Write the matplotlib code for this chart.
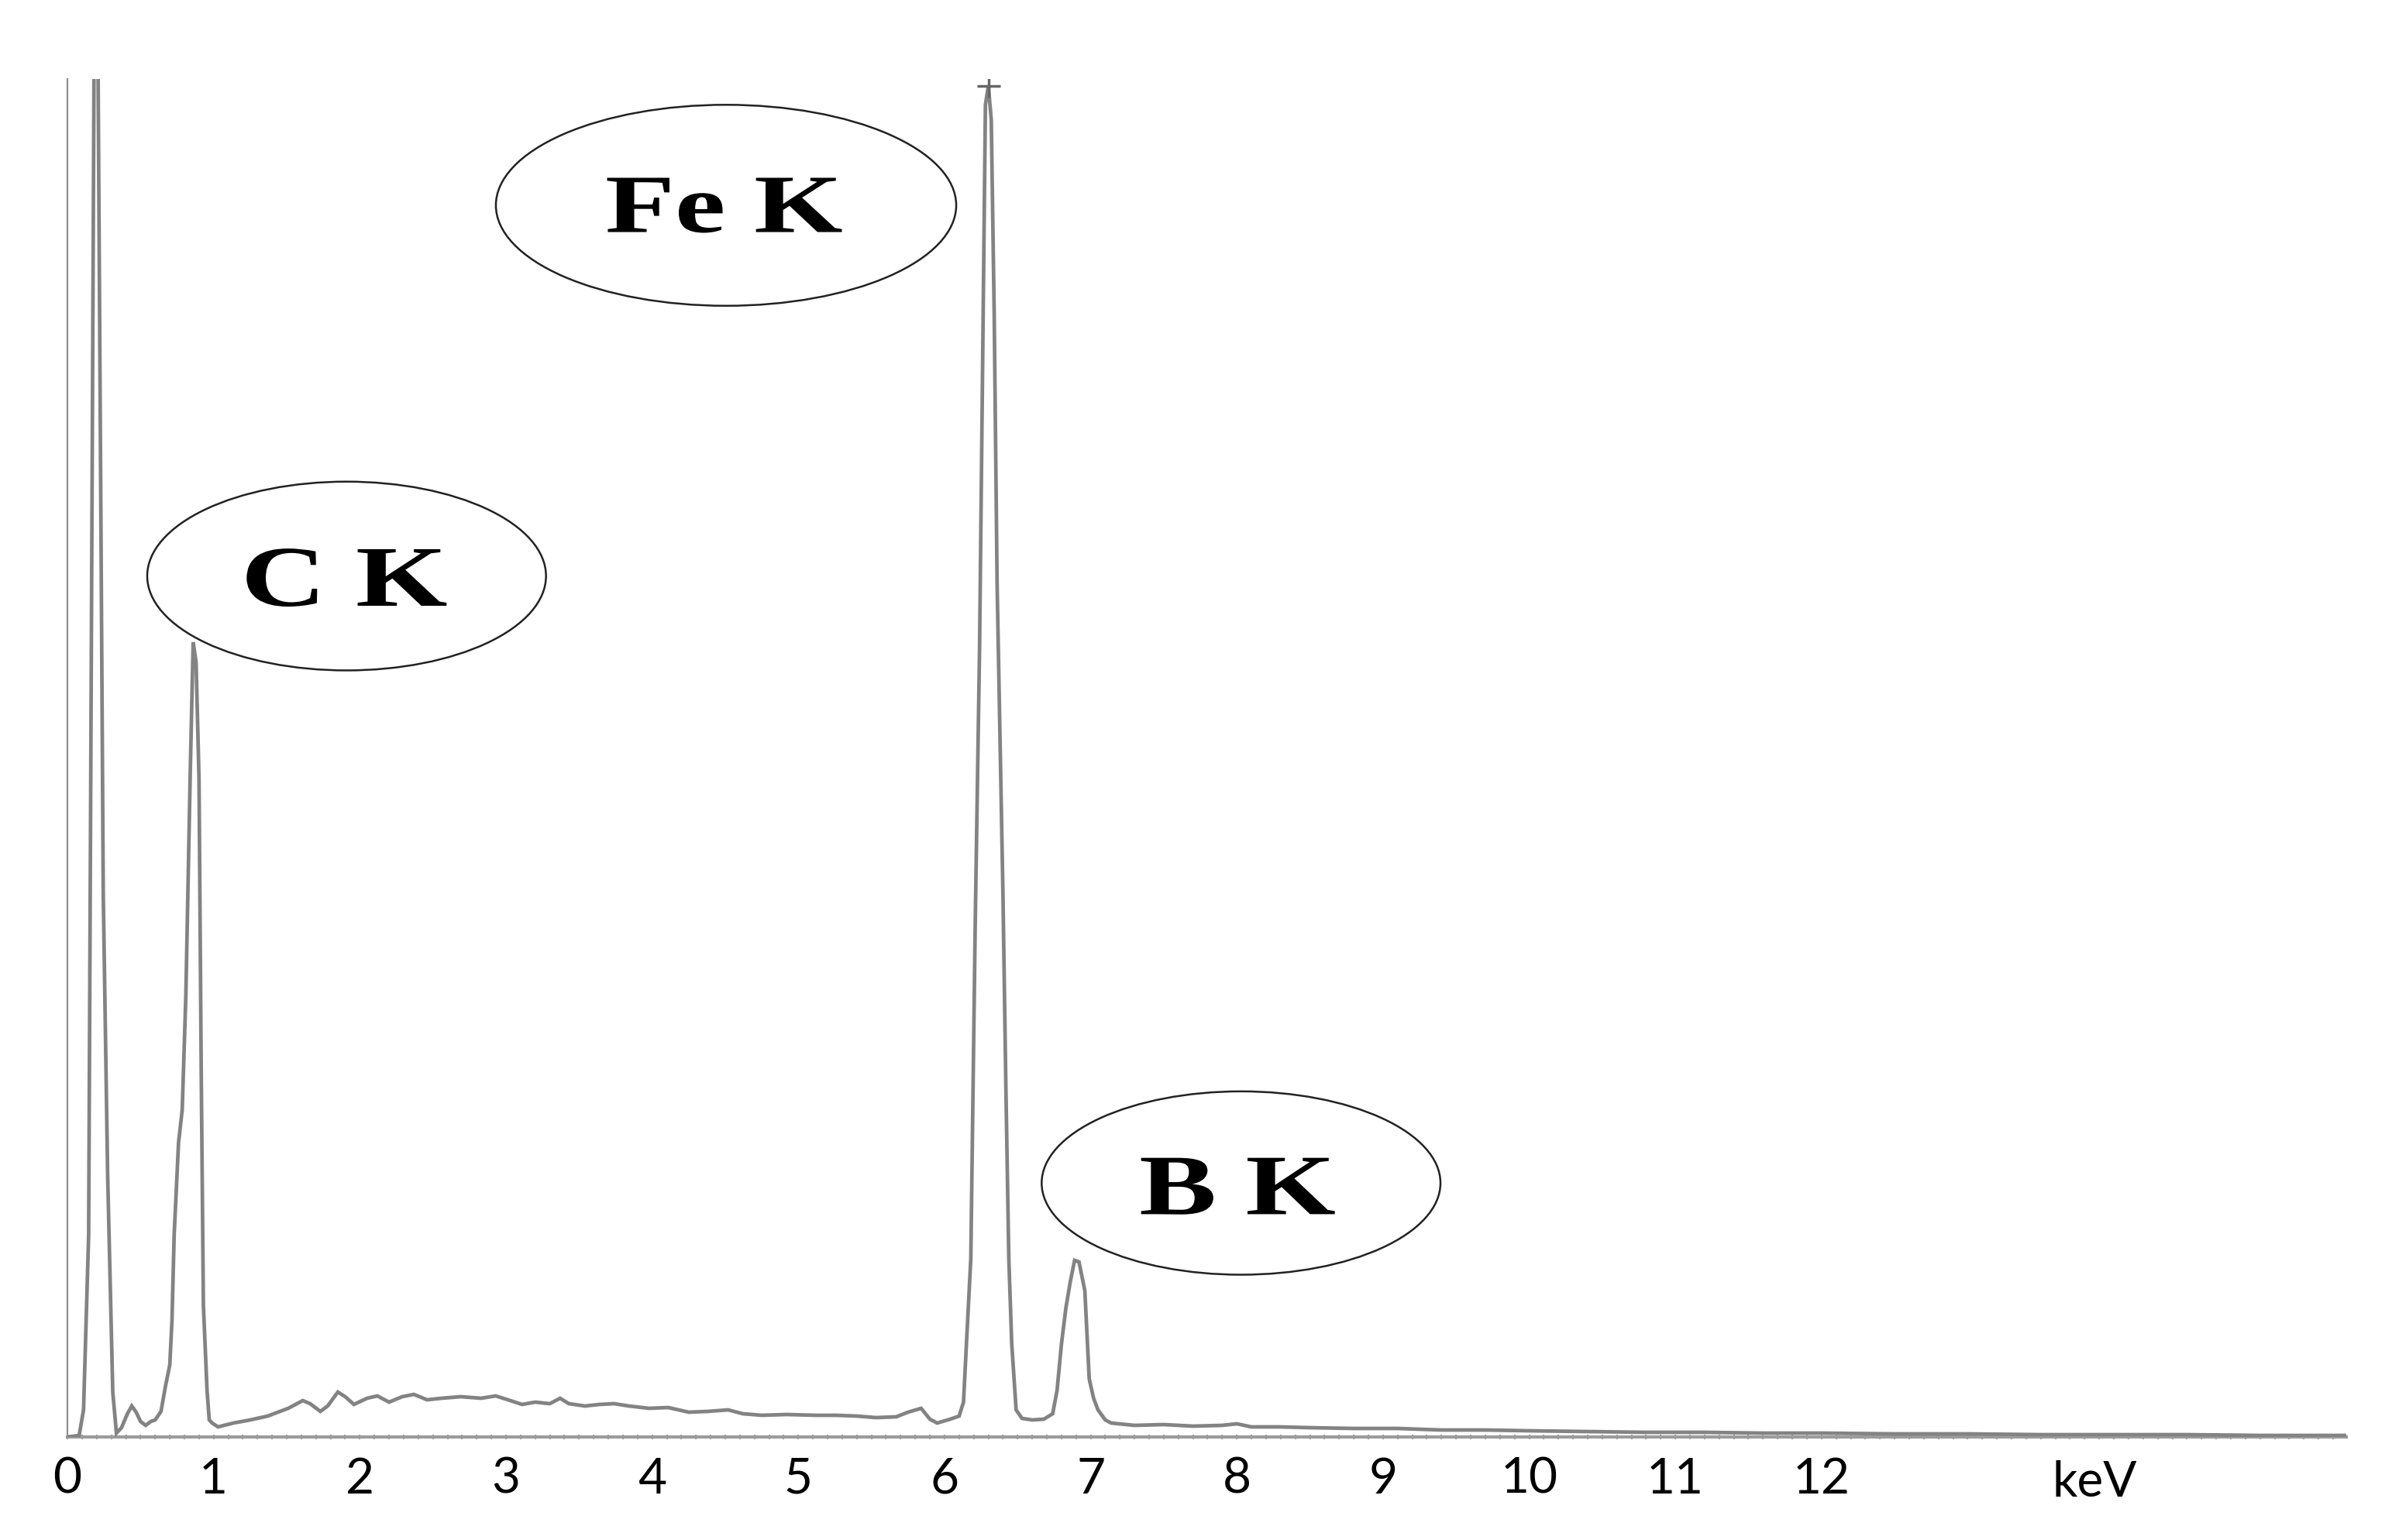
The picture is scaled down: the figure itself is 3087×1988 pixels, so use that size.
import numpy as np
import matplotlib.pyplot as plt
from matplotlib.patches import Ellipse, PathPatch
from matplotlib.textpath import TextPath
from matplotlib.font_manager import FontProperties
from matplotlib.transforms import Affine2D, blended_transform_factory

# EDS spectrum (energy in keV, intensity in arbitrary counts)
energy_kev = [
    0.00, 0.08, 0.11, 0.145, 0.185, 0.205, 0.245, 0.275, 0.31, 0.335,
    0.37, 0.41, 0.44, 0.47, 0.50, 0.535, 0.57, 0.60, 0.64, 0.67, 0.70, 0.715,
    0.73, 0.76, 0.785, 0.81, 0.84, 0.86, 0.88, 0.90, 0.915, 0.93, 0.955, 0.97, 0.99, 1.03,
    1.135, 1.25, 1.37, 1.51, 1.61, 1.66, 1.73, 1.78, 1.85, 1.90, 1.96, 2.05, 2.12, 2.20,
    2.29, 2.37, 2.46, 2.56, 2.69, 2.83, 2.93, 3.03, 3.11, 3.20, 3.30, 3.37, 3.43, 3.54,
    3.64, 3.74, 3.84, 3.98, 4.11, 4.25, 4.38, 4.52, 4.62, 4.75, 4.92, 5.12, 5.26, 5.40,
    5.53, 5.67, 5.75, 5.84, 5.90, 5.95, 6.04, 6.10,
    6.13, 6.15, 6.18, 6.21, 6.24, 6.26, 6.28, 6.30, 6.32, 6.34, 6.36, 6.38, 6.40, 6.42,
    6.44, 6.46, 6.49, 6.53, 6.60, 6.68, 6.74, 6.77, 6.80, 6.83, 6.86, 6.89, 6.92, 6.96,
    6.99, 7.02, 7.05, 7.10, 7.14,
    7.3, 7.5, 7.7, 7.9, 8.0, 8.1, 8.3, 8.5, 8.8, 9.1, 9.4, 9.7, 10.0, 10.4, 10.8, 11.2,
    11.6, 12.0, 12.5, 13.0, 13.5, 14.0, 14.5, 15.0, 15.59,
]
counts = [
    0, 2, 35, 261, 1900, 1900, 700, 338, 58, 5,
    12, 30, 40, 32, 20, 15, 20, 22, 33, 65, 93, 150,
    261, 380, 422, 570, 857, 1026, 1000, 850, 475, 170, 60, 22, 18, 13,
    18, 22, 27, 37, 47, 43, 33, 40, 58, 52, 42, 50, 53, 45,
    52, 55, 48, 50, 52, 50, 53, 47, 42, 45, 43, 50, 43, 40,
    42, 43, 40, 37, 38, 32, 33, 35, 30, 28, 29, 28, 28, 27,
    25, 26, 32, 37, 23, 18, 23, 27,
    45, 120, 230, 660, 1020, 1370, 1720, 1744, 1700, 1450, 1100, 900, 700, 450,
    230, 120, 35, 24, 22, 23, 30, 60, 120, 166, 200, 228, 226, 189,
    75, 50, 35, 22, 18,
    15, 16, 14, 15, 17, 13, 13, 12, 11, 11, 9, 9, 8, 7, 6, 6,
    5, 5, 4, 4, 3, 3, 3, 2, 2,
]
assert len(energy_kev) == len(counts)

tick_values = list(range(13))
tick_labels = [str(v) for v in tick_values]
unit_label = 'keV'
unit_pos = 13.87

peak_labels = ['Fe K', 'C K', 'B K']

# ---------------- Figure
fig = plt.figure(figsize=(30.87, 19.88), dpi=100)
ax = fig.add_axes([0.0282, 0.0669, 0.9527, 0.8818])

line_color = '#838383'
ax.plot(energy_kev, counts, color=line_color, lw=3.4, solid_joinstyle='miter', zorder=3)
i_top = int(np.argmax(np.where(np.array(energy_kev) > 5, counts, 0)))
ax.plot(energy_kev[i_top], counts[i_top], marker='+', ms=22, mew=2.5, color='#666666', zorder=3)

ax.set_xlim(0, 15.59)
ax.set_ylim(0, 1753)

for s in ['top', 'right']:
    ax.spines[s].set_visible(False)
ax.spines['bottom'].set_color('#9c9c9c')
ax.spines['bottom'].set_linewidth(3)
ax.spines['left'].set_color('#8f8f8f')
ax.spines['left'].set_linewidth(1.6)

tick_font = ['Liberation Sans Narrow', 'Lato', 'DejaVu Sans']
ax.set_yticks([])
ax.set_xticks(tick_values)
ax.set_xticklabels(tick_labels, family=tick_font, fontsize=46)
ax.set_xticks(np.arange(0, 15.6, 0.1), minor=True)
ax.tick_params(axis='x', which='major', length=5, width=1.5, color='#9c9c9c', direction='inout', pad=16)
ax.tick_params(axis='x', which='minor', length=5, width=1.5, color='#9c9c9c', direction='inout')

trans = blended_transform_factory(ax.transData, ax.transAxes)
ax.text(unit_pos, -0.0335, unit_label, transform=trans, ha='center', va='center',
        family=tick_font, fontsize=46)

# labelled ellipses (axes fraction: centre x, centre y, width, height)
ell_x = [0.289, 0.1225, 0.515]
ell_y = [0.907, 0.634, 0.187]
ell_w = [0.202, 0.175, 0.175]
ell_h = [0.148, 0.139, 0.135]
# label ink size in pixels (width, height) and offset of text centre from ellipse centre
lab_w = [303, 258, 250]
lab_h = [71, 75, 73]
lab_dx = [-2, 0, -4]
lab_dy = [0, -2, -4]

fp = FontProperties(family='Liberation Serif', weight='bold')
for lab, x, y, w, h, tw, th, dx, dy in zip(peak_labels, ell_x, ell_y, ell_w, ell_h,
                                           lab_w, lab_h, lab_dx, lab_dy):
    ax.add_patch(Ellipse((x, y), w, h, transform=ax.transAxes, facecolor='white',
                         edgecolor='#222222', lw=1.8, zorder=4))
    tp = TextPath((0, 0), lab, size=1, prop=fp)
    ext = tp.get_extents()
    cx, cy = ax.transAxes.transform((x, y))
    tr = (Affine2D().translate(-(ext.x0 + ext.x1) / 2, -(ext.y0 + ext.y1) / 2)
          .scale(tw / ext.width, th / ext.height).translate(cx + dx, cy + dy))
    fig.patches.append(PathPatch(tp, transform=tr, facecolor='black', edgecolor='none',
                                 zorder=5, figure=fig))

plt.savefig('out.png', dpi=100, facecolor='white')
